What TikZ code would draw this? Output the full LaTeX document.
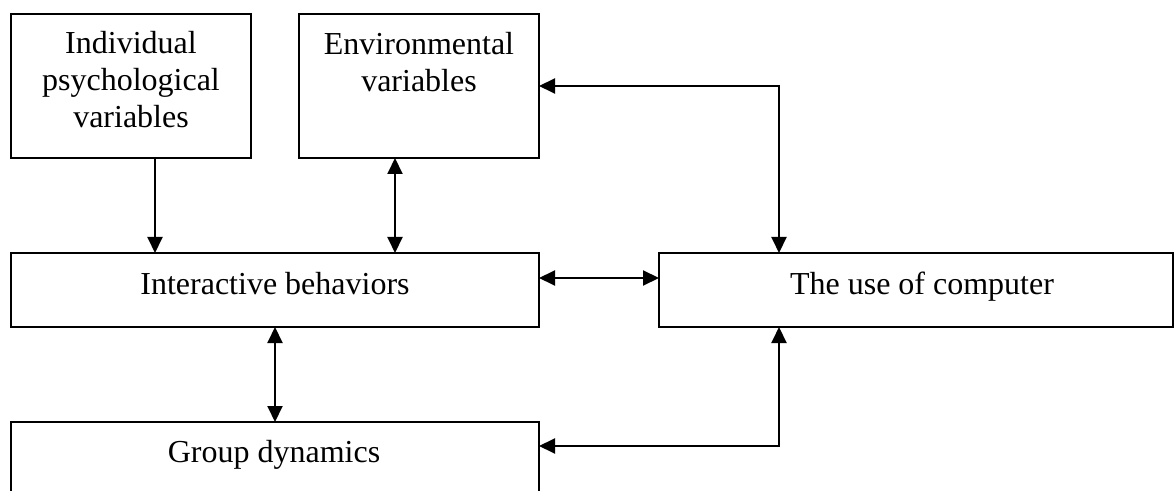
\documentclass[tikz,border=0pt]{standalone}
\usepackage{fontspec}
\setmainfont{Liberation Serif}
\usetikzlibrary{arrows.meta}
\tikzset{
  box/.style={draw, line width=1pt, inner sep=0pt, outer sep=0pt},
  txt/.style={inner sep=0pt, anchor=base, font=\fontsize{16}{18.5}\selectfont},
  link/.style={line width=1pt, -{Triangle[length=8pt,width=7.5pt]}},
  dlink/.style={line width=1pt, {Triangle[length=8pt,width=7.5pt]}-{Triangle[length=8pt,width=7.5pt]}}
}
\begin{document}
\begin{tikzpicture}[x=0.5pt,y=-0.5pt]
\useasboundingbox (0,0) rectangle (1176,491);
\clip (0,0) rectangle (1176,491);
\fill[white] (0,0) rectangle (1176,491);
% boxes
\node[box, minimum width=120pt, minimum height=72pt] (ipv) at (131,86) {};
\node[box, minimum width=120pt, minimum height=72pt] (env) at (419,86) {};
\node[box, minimum width=264pt, minimum height=37pt] (ib) at (275,290) {};
\node[box, minimum width=257pt, minimum height=37pt] (comp) at (916,290) {};
\node[box, minimum width=264pt, minimum height=69pt] (grp) at (275,491) {};
% texts
\node[txt] (ipvt) at (131,54) {\begin{tabular}[t]{@{}c@{}}Individual\\psychological\\variables\end{tabular}};
\node[txt] (envt) at (419,55) {\begin{tabular}[t]{@{}c@{}}Environmental\\variables\end{tabular}};
\node[txt] (ibt) at (275,295) {Interactive behaviors};
\node[txt] (compt) at (922,295) {The use of computer};
\node[txt] (grpt) at (274,462) {Group dynamics};
% helper coordinates
\coordinate (a1) at (155,0);
\coordinate (a2) at (395,0);
\coordinate (cx) at (779,0);
\coordinate (ay) at (0,278);
\coordinate (gy) at (0,446);
% connectors
\draw[link] (ipv.south -| a1) -- (ib.north -| a1);
\draw[dlink] (env.south -| a2) -- (ib.north -| a2);
\draw[dlink] (env.east) -| (cx |- comp.north);
\draw[dlink] (ib.east |- ay) -- (comp.west |- ay);
\draw[dlink] (ib.south) -- (grp.north);
\draw[dlink] (cx |- comp.south) |- (grp.east |- gy);
\end{tikzpicture}
\end{document}
